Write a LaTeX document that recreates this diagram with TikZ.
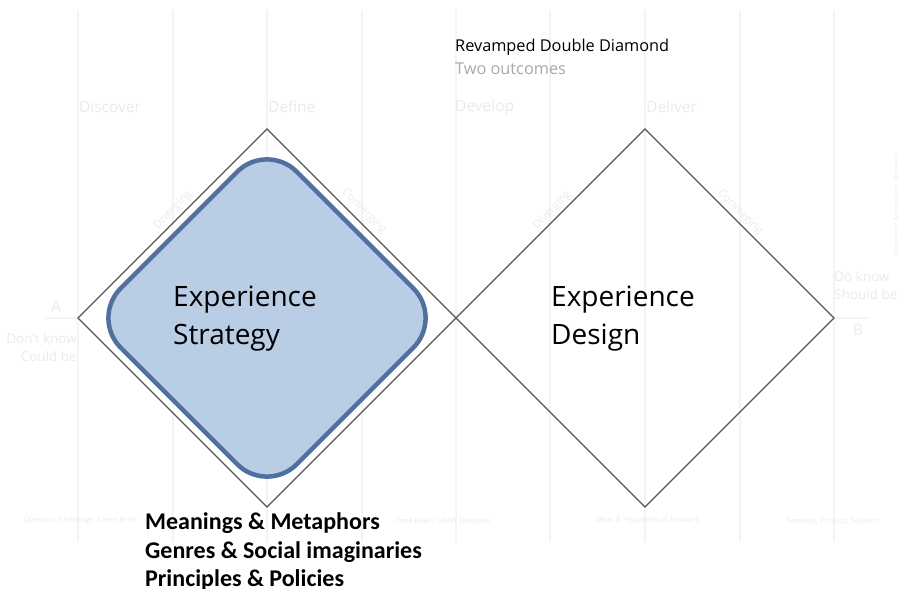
\documentclass[tikz,border=0pt]{standalone}
\usepackage{fontspec}
\setmainfont{Open Sans}
\newfontfamily\calfont{Carlito}
\definecolor{gridc}{HTML}{F4F4F4}
\definecolor{faint}{HTML}{EAEAEA}
\definecolor{dline}{HTML}{555555}
\definecolor{bfill}{HTML}{B9CDE5}
\definecolor{bline}{HTML}{50719F}
\definecolor{subc}{HTML}{A8A8A8}
\begin{document}
\begin{tikzpicture}[x=1pt,y=-1pt,
  gridline/.style={draw=gridc,line width=1.2pt},
  faintlbl/.style={text=faint,font=\fontsize{15.5}{17}\selectfont,inner sep=0pt},
  tinylbl/.style={text=faint,font=\fontsize{11}{12}\selectfont,inner sep=0pt},
  botlbl/.style={text=faint,font=\fontsize{7.5}{9}\selectfont,inner sep=0pt},
  diamondline/.style={draw=dline,line width=1.1pt,line join=miter},
  bigtxt/.style={font=\fontsize{28}{38}\selectfont,align=left,inner sep=0pt,anchor=west},
  boldlbl/.style={font=\calfont\bfseries\fontsize{24}{26}\selectfont,inner sep=0pt,anchor=west}]
\useasboundingbox (0,0) rectangle (898,589);
% background grid
\foreach \gx in {78,173,267,362,456,550,645,740,834}{
  \draw[gridline] (\gx,10) -- (\gx,542);
}
% faint phase labels
\node[faintlbl,anchor=west] (disc) at (79,107) {Discover};
\node[faintlbl,anchor=west] (defi) at (268,107) {Define};
\node[faintlbl,anchor=west] (deve) at (455,107) {Develop};
\node[faintlbl,anchor=west] (deli) at (646,107) {Deliver};
\node[tinylbl,rotate=45] (dv1) at (173,210) {Diverging};
\node[tinylbl,rotate=-45] (cv1) at (364,211) {Converging};
\node[tinylbl,rotate=45] (dv2) at (552,210) {Diverging};
\node[tinylbl,rotate=-45] (cv2) at (740,212) {Converging};
\node[faintlbl] (la) at (56,307) {A};
\draw[gridline] (45,318) -- (78,318);
\node[faintlbl,align=right,anchor=east,font=\fontsize{13.5}{18}\selectfont] (lab) at (77,347) {Don't know\\Could be};
\node[faintlbl,align=left,anchor=west,font=\fontsize{13.5}{18}\selectfont] (lcd) at (834,285) {Do know\\Should be};
\node[faintlbl] (lb) at (858,330) {B};
\draw[gridline] (836,318) -- (868,318);
\node[tinylbl,rotate=90,anchor=east,font=\fontsize{7}{8}\selectfont] (side) at (897,155) {Marketing, Motivation, Strategy};
\node[botlbl] (q1) at (80,521) {Question, Challenge, Client Brief};
\node[botlbl] (q2) at (443,521) {Time Brief / HMW Question};
\node[botlbl] (q3) at (647,521) {Ideas \& Hypothetical Answers};
\node[botlbl] (q4) at (833,521) {Answers, Product, Solution};
% title
\node[anchor=west,inner sep=0pt,font=\fontsize{16.3}{18}\selectfont] (title) at (455,47) {Revamped Double Diamond};
\node[anchor=west,inner sep=0pt,font=\fontsize{16.3}{18}\selectfont,text=subc] (sub) at (455,69) {Two outcomes};
% diamonds
\coordinate (lt) at (267,129);
\coordinate (lr) at (456,318);
\coordinate (lbm) at (267,507);
\coordinate (ll) at (78,318);
\coordinate (rt) at (645,129);
\coordinate (rr) at (834,318);
\coordinate (rb) at (645,507);
\draw[diamondline] (lt) -- (lr) -- (lbm) -- (ll) -- cycle;
\draw[diamondline] (rt) -- (rr) -- (rb) -- (lr) -- cycle;
% blue rounded diamond
\draw[draw=bline,fill=bfill,line width=4.5pt,rounded corners=42pt]
  (267,142) -- (443,318) -- (267,494) -- (91,318) -- cycle;
\node[bigtxt] (es) at (173,319) {Experience\\Strategy};
\node[bigtxt] (ed) at (551,319) {Experience\\Design};
% bottom labels
\node[boldlbl] (m1) at (145,523) {Meanings \& Metaphors};
\node[boldlbl] (m2) at (145,552) {Genres \& Social imaginaries};
\node[boldlbl] (m3) at (145,580) {Principles \& Policies};
\end{tikzpicture}
\end{document}
